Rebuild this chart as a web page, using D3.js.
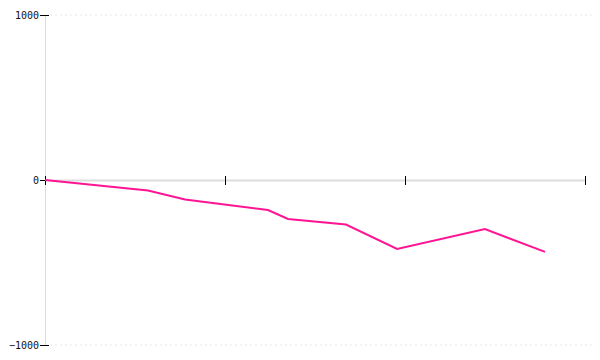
<!DOCTYPE html>
<html>
<head>
<meta charset="utf-8">
<script src="https://cdn.jsdelivr.net/npm/d3@7"></script>
<style>
  body { margin: 0; background: #fff; }
  .tick text { font-family: "DejaVu Sans Mono", monospace; font-size: 10px; fill: #111; }
</style>
</head>
<body>
<div id="chart"></div>
<script>
// x positions (unitless, axis has no labels) and y values
const xValues = [0, 0.572, 0.778, 1.239, 1.35, 1.672, 1.956, 2.444, 2.778];
const yValues = [0, -64, -118, -182, -236, -270, -418, -297, -436];
const xTicks = [0, 1, 2, 3];
const yTicks = [-1000, 0, 1000];

const width = 600, height = 360;
const margin = { top: 15, right: 15, bottom: 15, left: 45 };

const x = d3.scaleLinear().domain([0, 3]).range([margin.left, width - margin.right]);
const y = d3.scaleLinear().domain([-1000, 1000]).range([height - margin.bottom, margin.top]);

const svg = d3.select("#chart").append("svg")
  .attr("width", width)
  .attr("height", height);

// dashed gridlines at the outer y ticks
svg.append("g")
  .selectAll("line")
  .data(yTicks.filter(d => d !== 0))
  .enter()
  .append("line")
  .attr("x1", x(0) + 5)
  .attr("x2", width - 8)
  .attr("y1", d => y(d))
  .attr("y2", d => y(d))
  .style("stroke", "#e6e6e6")
  .style("stroke-dasharray", "2,3");

// y axis
const yAxis = svg.append("g")
  .attr("transform", `translate(${margin.left},0)`)
  .call(d3.axisLeft(y).tickValues(yTicks).tickFormat(d3.format("d")).tickSize(5).tickPadding(1));
yAxis.select(".domain").style("stroke", "#ddd");
yAxis.selectAll(".tick line").attr("x1", -5).attr("x2", 4).style("stroke", "#000");

// x axis through zero, no labels
const xAxis = svg.append("g")
  .attr("transform", `translate(0,${y(0)})`)
  .call(d3.axisBottom(x).tickValues(xTicks).tickFormat("").tickSizeOuter(0));
xAxis.select(".domain").style("stroke", "#ddd").style("stroke-width", 2);
xAxis.selectAll(".tick line").attr("y1", -4).attr("y2", 5).style("stroke", "#000");

// series line
const data = xValues.map((d, i) => ({ x: d, y: yValues[i] }));
svg.append("path")
  .datum(data)
  .attr("d", d3.line().x(d => x(d.x)).y(d => y(d.y)))
  .style("fill", "none")
  .style("stroke", "#ff1493")
  .style("stroke-width", 2);
</script>
</body>
</html>
